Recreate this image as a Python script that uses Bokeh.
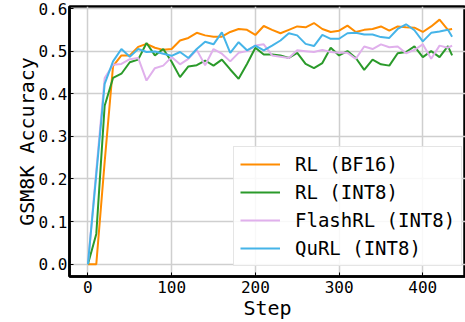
from bokeh.plotting import figure
from bokeh.models import FixedTicker, PrintfTickFormatter, Legend, LegendItem, Range1d
from bokeh.embed import file_html
from bokeh.resources import INLINE

steps = list(range(0, 440, 10)) + [435]

rl_bf16 = [0.0, 0.0, 0.24, 0.465, 0.49, 0.49, 0.51, 0.517, 0.508, 0.503,
           0.505, 0.525, 0.531, 0.543, 0.537, 0.534, 0.534, 0.545, 0.552, 0.55,
           0.538, 0.559, 0.55, 0.542, 0.55, 0.558, 0.556, 0.566, 0.552, 0.545,
           0.548, 0.56, 0.545, 0.55, 0.552, 0.558, 0.548, 0.558, 0.556, 0.555,
           0.545, 0.558, 0.574, 0.55, 0.552]

rl_int8 = [0.0, 0.071, 0.372, 0.437, 0.447, 0.474, 0.48, 0.519, 0.49, 0.505,
           0.475, 0.439, 0.464, 0.467, 0.478, 0.466, 0.48, 0.457, 0.435, 0.47,
           0.508, 0.492, 0.492, 0.49, 0.484, 0.496, 0.47, 0.46, 0.472, 0.508,
           0.49, 0.5, 0.484, 0.456, 0.48, 0.469, 0.466, 0.495, 0.498, 0.511,
           0.486, 0.5, 0.486, 0.512, 0.49]

flashrl_int8 = [0.0, 0.22, 0.437, 0.468, 0.47, 0.481, 0.484, 0.431, 0.46, 0.466,
                0.486, 0.469, 0.482, 0.503, 0.467, 0.505, 0.494, 0.476, 0.496, 0.5,
                0.513, 0.516, 0.49, 0.487, 0.484, 0.502, 0.5, 0.498, 0.503, 0.498,
                0.496, 0.496, 0.482, 0.511, 0.505, 0.516, 0.509, 0.511, 0.495, 0.503,
                0.516, 0.482, 0.513, 0.508, 0.513]

qurl_int8 = [0.0, 0.21, 0.423, 0.476, 0.505, 0.487, 0.505, 0.498, 0.499, 0.494,
             0.489, 0.498, 0.484, 0.505, 0.522, 0.516, 0.544, 0.496, 0.521, 0.502,
             0.513, 0.502, 0.513, 0.525, 0.542, 0.537, 0.517, 0.512, 0.538, 0.529,
             0.529, 0.542, 0.543, 0.539, 0.539, 0.533, 0.531, 0.552, 0.563, 0.549,
             0.523, 0.543, 0.546, 0.55, 0.534]

series_names = ["RL (BF16)", "RL (INT8)", "FlashRL (INT8)", "QuRL (INT8)"]
series_values = [rl_bf16, rl_int8, flashrl_int8, qurl_int8]
colors = ["#ff8c00", "#2a9a2a", "#e0b0ec", "#45b4e8"]

x_ticks = [0, 100, 200, 300, 400]
y_ticks = [0.0, 0.1, 0.2, 0.3, 0.4, 0.5, 0.6]

FONT = "DejaVu Sans Mono"

p = figure(width=465, height=322, output_backend="svg", toolbar_location=None,
           x_range=Range1d(-22, 451), y_range=Range1d(-0.029, 0.6048),
           min_border_left=69, min_border_right=0, min_border_top=6, min_border_bottom=46)

p.background_fill_color = "white"
p.border_fill_color = "white"
p.outline_line_color = "black"
p.outline_line_width = 2.5

items = []
for name, vals, c in zip(series_names, series_values, colors):
    r = p.line(steps, vals, line_color=c, line_width=2)
    items.append(LegendItem(label=name, renderers=[r]))

for ax in (p.xaxis[0], p.yaxis[0]):
    ax.axis_line_color = "black"
    ax.axis_line_width = 2.5
    ax.major_tick_in = 4
    ax.major_tick_out = 0
    ax.minor_tick_line_color = None
    ax.major_tick_line_color = "black"
    ax.major_label_text_font = FONT
    ax.major_label_text_font_size = "16px"
    ax.major_label_text_color = "black"
    ax.axis_label_text_font = FONT
    ax.axis_label_text_font_size = "20px"
    ax.axis_label_text_font_style = "normal"
    ax.axis_label_text_color = "black"

p.xaxis.ticker = FixedTicker(ticks=x_ticks)
p.yaxis.ticker = FixedTicker(ticks=y_ticks)
p.yaxis.formatter = PrintfTickFormatter(format="%.1f")
p.xaxis.axis_label = "Step"
p.yaxis.axis_label = "GSM8K Accuracy"
p.xaxis.major_label_standoff = 4
p.yaxis.major_label_standoff = 2
p.xaxis.axis_label_standoff = 0
p.yaxis.axis_label_standoff = -3

p.grid.grid_line_color = "#cfcfcf"
p.grid.grid_line_width = 1.5

legend = Legend(items=items, location=(164, 10))
legend.label_text_font = FONT
legend.label_text_font_size = "19px"
legend.label_text_color = "black"
legend.glyph_width = 40
legend.glyph_height = 20
legend.label_height = 20
legend.label_standoff = 15
legend.spacing = 6
legend.padding = 6
legend.margin = 0
legend.border_line_color = "#cccccc"
legend.border_line_width = 1.5
legend.background_fill_color = "white"
legend.background_fill_alpha = 0.85
p.add_layout(legend, "center")

open("out.html", "w").write(file_html(p, INLINE))
